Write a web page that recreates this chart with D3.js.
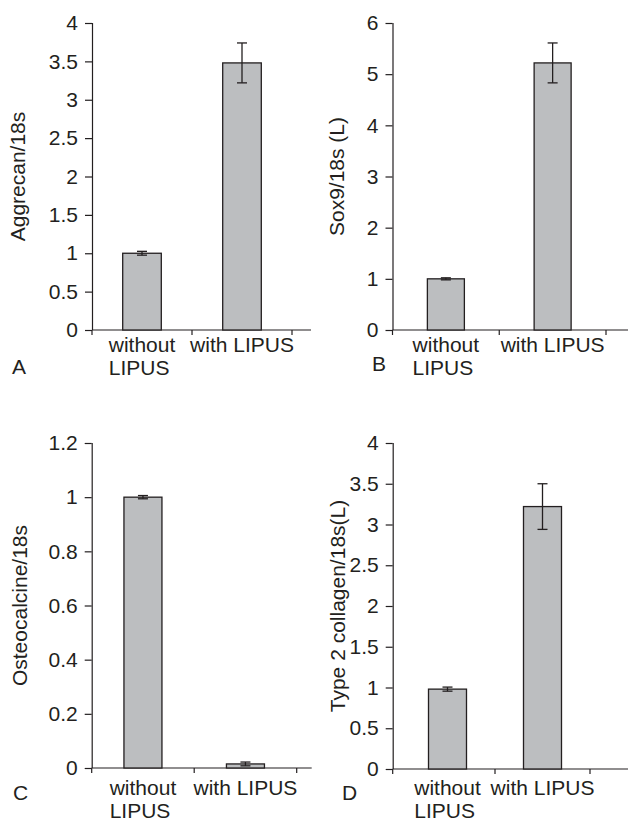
<!DOCTYPE html>
<html>
<head>
<meta charset="utf-8">
<script src="https://cdn.jsdelivr.net/npm/d3@7"></script>
<style>
  body { margin: 0; background: #fff; }
  svg { display: block; font-family: "Liberation Sans", Arial, sans-serif; }
</style>
</head>
<body>
<svg id="chart" width="629" height="821"></svg>
<script>
// values
const categories = [["without", "LIPUS"], ["with LIPUS"]];

const aggrecanMeans = [1.0, 3.48];
const aggrecanErrors = [0.025, 0.26];
const aggrecanTicks = [0, 0.5, 1, 1.5, 2, 2.5, 3, 3.5, 4];

const sox9Means = [1.0, 5.22];
const sox9Errors = [0.02, 0.39];
const sox9Ticks = [0, 1, 2, 3, 4, 5, 6];

const osteoMeans = [1.0, 0.015];
const osteoErrors = [0.006, 0.007];
const osteoTicks = [0, 0.2, 0.4, 0.6, 0.8, 1, 1.2];

const collagenMeans = [0.98, 3.22];
const collagenErrors = [0.025, 0.28];
const collagenTicks = [0, 0.5, 1, 1.5, 2, 2.5, 3, 3.5, 4];

const ink = "#231f20";
const fontSize = "21px";
const svg = d3.select("#chart");

const panels = [
  { letter: "A", title: "Aggrecan/18s", means: aggrecanMeans, errs: aggrecanErrors, ticks: aggrecanTicks,
    ax: 92, band: [92, 292], axEnd: 311, top: 23, base: 330, barW: 38.6,
    titleX: 25, letterX: 12, letterY: 374, catDy: 22 },
  { letter: "B", title: "Sox9/18s (L)", means: sox9Means, errs: sox9Errors, ticks: sox9Ticks,
    ax: 392.5, band: [392.5, 606], axEnd: 628, top: 23, base: 330, barW: 37,
    titleX: 344, letterX: 372, letterY: 371, catDy: 22 },
  { letter: "C", title: "Osteocalcine/18s", means: osteoMeans, errs: osteoErrors, ticks: osteoTicks,
    ax: 91.7, band: [91.7, 296.7], axEnd: 311.7, top: 443, base: 768, barW: 38,
    titleX: 27, letterX: 13, letterY: 800, catDy: 27 },
  { letter: "D", title: "Type 2 collagen/18s(L)", means: collagenMeans, errs: collagenErrors, ticks: collagenTicks,
    ax: 392.7, band: [400, 590], axEnd: 628, top: 443, base: 769, barW: 38,
    titleX: 345, letterX: 342, letterY: 800, catDy: 26 },
];

panels.forEach((p) => {
  const g = svg.append("g");
  const names = categories.map((c) => c.join(" "));

  const y = d3.scaleLinear()
    .domain([0, d3.max(p.ticks)])
    .range([p.base, p.top]);

  const step = (p.band[1] - p.band[0]) / 2;
  const pad = 1 - p.barW / step;
  const x = d3.scaleBand()
    .domain(names)
    .range(p.band)
    .paddingInner(pad)
    .paddingOuter(pad / 2);

  // y axis
  const yAxis = g.append("g")
    .attr("transform", `translate(${p.ax},0)`)
    .call(d3.axisLeft(y).tickValues(p.ticks).tickSize(7).tickPadding(7).tickFormat((d) => String(d)).tickSizeOuter(0));
  yAxis.select(".domain").attr("stroke", ink).attr("stroke-width", 1.2)
    .attr("d", `M0.5,${p.base}V${p.top}`);
  yAxis.selectAll(".tick line").attr("stroke", ink).attr("stroke-width", 1.2);
  yAxis.selectAll(".tick text").attr("fill", ink).style("font-size", fontSize)
    .style("font-family", "'Liberation Sans', Arial, sans-serif");

  // x axis line and category ticks
  g.append("line")
    .attr("x1", p.ax).attr("x2", p.axEnd)
    .attr("y1", p.base).attr("y2", p.base)
    .attr("stroke", ink).attr("stroke-width", 1.2);

  const bounds = [p.ax].concat(names.slice(1).map((n) => x(n) - x.step() * pad / 2), [p.band[1]]);
  g.selectAll(".xtick").data(bounds).join("line")
    .attr("x1", (d) => d).attr("x2", (d) => d)
    .attr("y1", p.base).attr("y2", p.base + 5)
    .attr("stroke", ink).attr("stroke-width", 1.2);

  // bars
  g.selectAll(".bar").data(p.means).join("rect")
    .attr("x", (d, i) => x(names[i]))
    .attr("y", (d) => y(d))
    .attr("width", x.bandwidth())
    .attr("height", (d) => p.base - y(d))
    .attr("fill", "#bcbec0")
    .attr("stroke", ink)
    .attr("stroke-width", 1.3);

  // error bars
  const eb = g.selectAll(".err").data(p.means).join("g");
  const cx = (i) => x(names[i]) + x.bandwidth() / 2;
  eb.append("line")
    .attr("x1", (d, i) => cx(i)).attr("x2", (d, i) => cx(i))
    .attr("y1", (d, i) => y(d + p.errs[i])).attr("y2", (d, i) => y(d - p.errs[i]))
    .attr("stroke", ink).attr("stroke-width", 1.3);
  [1, -1].forEach((s) => {
    eb.append("line")
      .attr("x1", (d, i) => cx(i) - 5).attr("x2", (d, i) => cx(i) + 5)
      .attr("y1", (d, i) => y(d + s * p.errs[i])).attr("y2", (d, i) => y(d + s * p.errs[i]))
      .attr("stroke", ink).attr("stroke-width", 1.3);
  });

  // category labels, second line left-aligned with the first
  categories.forEach((lines, i) => {
    const first = g.append("text")
      .attr("x", cx(i))
      .attr("y", p.base + p.catDy)
      .attr("text-anchor", "middle")
      .attr("fill", ink)
      .style("font-size", fontSize)
      .text(lines[0]);
    if (lines.length > 1) {
      const left = cx(i) - first.node().getComputedTextLength() / 2;
      g.append("text")
        .attr("x", left)
        .attr("y", p.base + p.catDy + 23)
        .attr("fill", ink)
        .style("font-size", fontSize)
        .text(lines[1]);
    }
  });

  // y title
  g.append("text")
    .attr("transform", `translate(${p.titleX},${(p.top + p.base) / 2}) rotate(-90)`)
    .attr("text-anchor", "middle")
    .attr("fill", ink)
    .style("font-size", fontSize)
    .text(p.title);

  // panel letter
  g.append("text")
    .attr("x", p.letterX)
    .attr("y", p.letterY)
    .attr("fill", ink)
    .style("font-size", fontSize)
    .text(p.letter);
});
</script>
</body>
</html>
